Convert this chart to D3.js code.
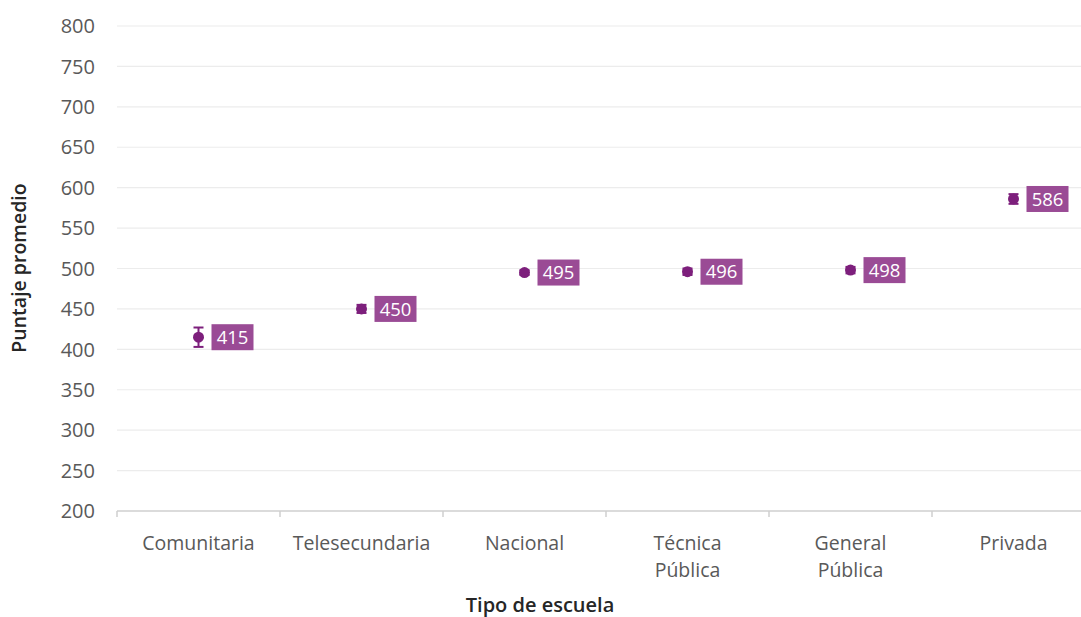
<!DOCTYPE html>
<html><head><meta charset="utf-8">
<script src="https://cdn.jsdelivr.net/npm/d3@7"></script>
<style>body{margin:0;background:#fff;} text{font-family:"Open Sans",sans-serif;}</style>
</head><body>
<svg id="c" width="1081" height="617"></svg>
<script>
const categories = [["Comunitaria"],["Telesecundaria"],["Nacional"],["Técnica","Pública"],["General","Pública"],["Privada"]];
const means = [415, 450, 495, 496, 498, 586];
const errors = [12, 5, 3, 4, 4, 6];
const yTicks = [200,250,300,350,400,450,500,550,600,650,700,750,800];

const svg = d3.select("#c");
const x = d3.scaleBand().domain(d3.range(categories.length)).range([117, 1095]);
const y = d3.scaleLinear().domain([200, 800]).range([511, 26]);

// gridlines
svg.append("g").selectAll("line").data(yTicks.slice(1)).join("line")
  .attr("x1", 117).attr("x2", 1081)
  .attr("y1", d => y(d)).attr("y2", d => y(d))
  .attr("stroke", "#ececec").attr("stroke-width", 1.2);

// y labels
svg.append("g").selectAll("text").data(yTicks).join("text")
  .attr("x", 95).attr("y", d => y(d)).attr("dy", "0.36em")
  .attr("text-anchor", "end").attr("font-size", 20).attr("fill", "#595959")
  .text(d => d);

// x axis
svg.append("line").attr("x1", 117).attr("x2", 1081).attr("y1", y(200)).attr("y2", y(200))
  .attr("stroke", "#cfcfcf").attr("stroke-width", 1.5);
svg.append("g").selectAll("line").data(d3.range(categories.length)).join("line")
  .attr("x1", d => x(d)).attr("x2", d => x(d))
  .attr("y1", y(200)).attr("y2", y(200) + 6)
  .attr("stroke", "#cfcfcf").attr("stroke-width", 1.5);

// x labels
const xl = svg.append("g").selectAll("text").data(categories).join("text")
  .attr("x", (d,i) => x(i) + x.bandwidth()/2).attr("y", 550)
  .attr("text-anchor", "middle").attr("font-size", 19.5).attr("fill", "#595959");
xl.selectAll("tspan").data(d => d).join("tspan")
  .attr("x", function(){ return this.parentNode.getAttribute("x"); })
  .attr("dy", (d,i) => i === 0 ? 0 : 27).text(d => d);

// error bars & points
const col = "#7d1f7c";
const g = svg.append("g").selectAll("g").data(means).join("g")
  .attr("transform", (d,i) => `translate(${x(i) + x.bandwidth()/2},0)`);
g.append("line").attr("y1", (d,i) => y(d - errors[i])).attr("y2", (d,i) => y(d + errors[i]))
  .attr("stroke", col).attr("stroke-width", 2);
g.append("line").attr("x1", -5).attr("x2", 5).attr("y1", (d,i) => y(d + errors[i])).attr("y2", (d,i) => y(d + errors[i]))
  .attr("stroke", col).attr("stroke-width", 2);
g.append("line").attr("x1", -5).attr("x2", 5).attr("y1", (d,i) => y(d - errors[i])).attr("y2", (d,i) => y(d - errors[i]))
  .attr("stroke", col).attr("stroke-width", 2);
g.append("circle").attr("cy", d => y(d)).attr("r", 5.5).attr("fill", col);

// labels
g.append("rect").attr("x", 13).attr("y", d => y(d) - 13).attr("width", 42).attr("height", 26)
  .attr("fill", "#9a4b95");
g.append("text").attr("x", 34).attr("y", d => y(d)).attr("dy", "0.36em")
  .attr("text-anchor", "middle").attr("font-size", 18.5).attr("fill", "#fff").text(d => d);

// axis titles
svg.append("text").attr("transform", "translate(26,268) rotate(-90)")
  .attr("text-anchor", "middle").attr("font-size", 19.5).attr("font-weight", 600).attr("fill", "#262626")
  .text("Puntaje promedio");
svg.append("text").attr("x", 540).attr("y", 612)
  .attr("text-anchor", "middle").attr("font-size", 20).attr("font-weight", 600).attr("fill", "#262626")
  .text("Tipo de escuela");
</script>
</body></html>
